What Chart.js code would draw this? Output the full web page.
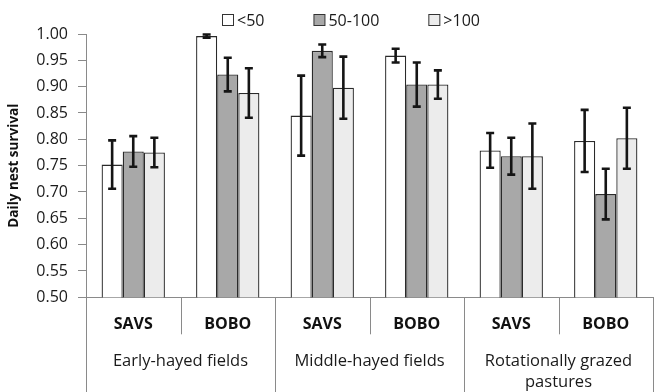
<!DOCTYPE html>
<html>
<head>
<meta charset="utf-8">
<script src="https://cdn.jsdelivr.net/npm/chart.js@4/dist/chart.umd.min.js"></script>
<style>
  html, body { margin: 0; padding: 0; background: #fff; }
  #wrap { width: 654px; height: 392px; position: relative; }
</style>
</head>
<body>
<div id="wrap"><canvas id="c" width="654" height="392"></canvas></div>
<script>
// Species within each habitat
const categories = ['SAVS', 'BOBO', 'SAVS', 'BOBO', 'SAVS', 'BOBO'];
// Habitat groups (two species per group)
const groups = ['Early-hayed fields', 'Middle-hayed fields', ['Rotationally grazed', 'pastures']];
// Field size classes
const seriesNames = ['<50', '50-100', '>100'];

// Daily nest survival estimates and their standard errors
const lt50 = [0.752, 0.996, 0.845, 0.959, 0.779, 0.797];
const lt50Err = [0.046, 0.003, 0.076, 0.013, 0.033, 0.059];
const mid = [0.777, 0.923, 0.968, 0.904, 0.768, 0.696];
const midErr = [0.029, 0.032, 0.012, 0.042, 0.035, 0.048];
const gt100 = [0.775, 0.888, 0.898, 0.904, 0.768, 0.802];
const gt100Err = [0.028, 0.047, 0.059, 0.027, 0.062, 0.058];

const yTicks = [0.50, 0.55, 0.60, 0.65, 0.70, 0.75, 0.80, 0.85, 0.90, 0.95, 1.00];

const FONT = '"Open Sans", "Liberation Sans", sans-serif';
const AXIS_GREY = '#8a8a8a';
const fills = ['#ffffff', '#a8a8a8', '#ececec'];
const errs = [lt50Err, midErr, gt100Err];

// Error bars with caps, drawn on top of the bars
const errorBars = {
  id: 'errorBars',
  afterDatasetsDraw(chart) {
    const ctx = chart.ctx;
    const y = chart.scales.y;
    ctx.save();
    ctx.strokeStyle = '#151515';
    ctx.lineWidth = 2.6;
    chart.data.datasets.forEach((ds, di) => {
      const meta = chart.getDatasetMeta(di);
      meta.data.forEach((bar, i) => {
        const v = ds.data[i], e = errs[di][i];
        const yt = y.getPixelForValue(v + e);
        const yb = y.getPixelForValue(v - e);
        const cap = 4;
        ctx.beginPath();
        ctx.moveTo(bar.x, yt); ctx.lineTo(bar.x, yb);
        ctx.moveTo(bar.x - cap, yt); ctx.lineTo(bar.x + cap, yt);
        ctx.moveTo(bar.x - cap, yb); ctx.lineTo(bar.x + cap, yb);
        ctx.stroke();
      });
    });
    ctx.restore();
  }
};

// Category separators below the axis: short between species, long between habitats
const separators = {
  id: 'separators',
  afterDraw(chart) {
    const ctx = chart.ctx;
    const area = chart.chartArea;
    const n = categories.length;
    const w = (area.right - area.left) / n;
    ctx.save();
    ctx.strokeStyle = AXIS_GREY;
    ctx.lineWidth = 1;
    for (let i = 0; i <= n; i++) {
      const px = Math.round(area.left + i * w) + 0.5;
      const yEnd = (i % 2 === 0) ? chart.height : area.bottom + 37;
      ctx.beginPath();
      ctx.moveTo(px, area.bottom);
      ctx.lineTo(px, yEnd);
      ctx.stroke();
    }
    ctx.restore();
  }
};

// Legend row across the top
const topLegend = {
  id: 'topLegend',
  afterDraw(chart) {
    const ctx = chart.ctx;
    ctx.save();
    ctx.font = '16px ' + FONT;
    ctx.textBaseline = 'middle';
    let bx = 222;
    const cy = 20;
    chart.data.datasets.forEach((ds) => {
      ctx.fillStyle = ds.backgroundColor;
      ctx.fillRect(bx + 0.5, cy - 5.5, 11, 11);
      ctx.strokeStyle = '#333';
      ctx.lineWidth = 1;
      ctx.strokeRect(bx + 0.5, cy - 5.5, 11, 11);
      ctx.fillStyle = '#1a1a1a';
      const tx = bx + 15;
      ctx.fillText(ds.label, tx, cy + 1);
      bx = tx + ctx.measureText(ds.label).width + 49;
    });
    ctx.restore();
  }
};

new Chart(document.getElementById('c'), {
  type: 'bar',
  data: {
    labels: categories,
    datasets: [lt50, mid, gt100].map((d, i) => ({
      label: seriesNames[i],
      data: d,
      backgroundColor: fills[i],
      borderColor: '#2a2a2a',
      borderWidth: 1.3,
      categoryPercentage: 0.67,
      barPercentage: 1.0
    }))
  },
  options: {
    responsive: false,
    animation: false,
    layout: { padding: { top: 34, right: 1, left: 0, bottom: 0 } },
    plugins: {
      legend: { display: false },
      tooltip: { enabled: false }
    },
    scales: {
      y: {
        min: 0.5,
        max: 1.0,
        afterBuildTicks(scale) { scale.ticks = yTicks.map(v => ({ value: v })); },
        afterFit(scale) { scale.width = 86; },
        grid: { drawOnChartArea: false, color: AXIS_GREY, tickLength: 8 },
        border: { color: AXIS_GREY },
        ticks: {
          padding: 10,
          color: '#1a1a1a',
          font: { family: FONT, size: 16 },
          callback: (v) => Number(v).toFixed(2)
        },
        title: {
          display: true,
          text: 'Daily nest survival',
          color: '#111',
          padding: { top: 6, bottom: 0 },
          font: { family: FONT, size: 13.5, weight: 'bold' }
        }
      },
      x: {
        weight: 0,
        afterFit(scale) { scale.height = 42; },
        grid: { display: false },
        border: { color: AXIS_GREY },
        ticks: {
          padding: 10,
          color: '#111',
          maxRotation: 0,
          font: { family: FONT, size: 16, weight: 'bold' }
        }
      },
      x2: {
        type: 'category',
        position: 'bottom',
        weight: 1,
        offset: true,
        labels: groups,
        afterFit(scale) { scale.height = 52.7; },
        grid: { display: false },
        border: { display: false },
        ticks: {
          padding: 4,
          color: '#1a1a1a',
          maxRotation: 0,
          autoSkip: false,
          font: { family: FONT, size: 16.5, lineHeight: 1.25 }
        }
      }
    }
  },
  plugins: [errorBars, separators, topLegend]
});
</script>
</body>
</html>
